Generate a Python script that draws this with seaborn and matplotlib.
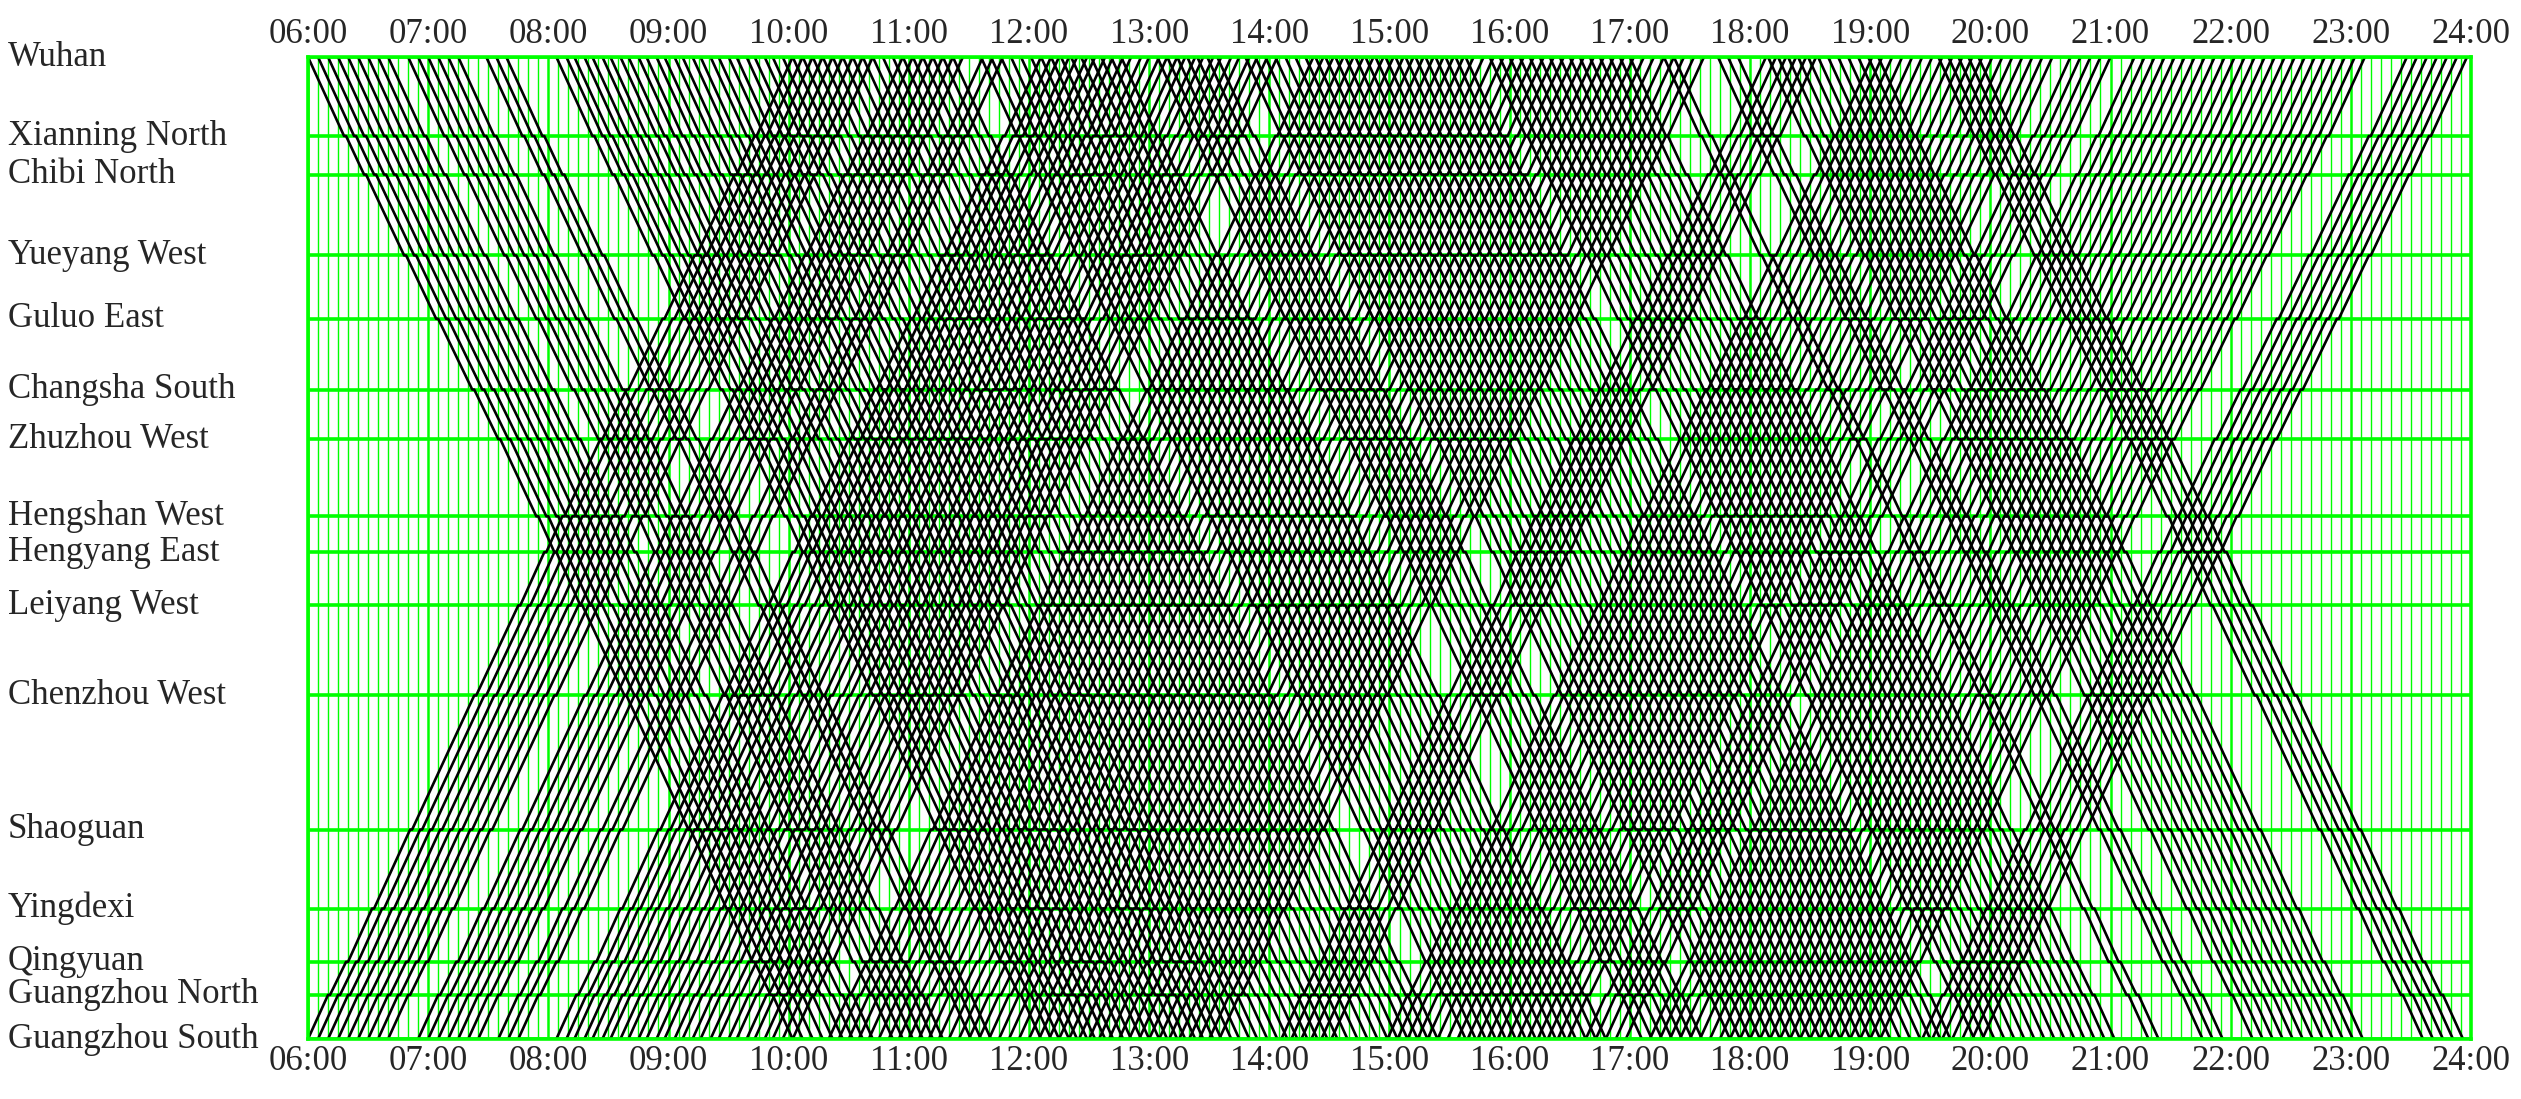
import numpy as np
import pandas as pd
import matplotlib
matplotlib.use("Agg")
import matplotlib.pyplot as plt
import matplotlib.transforms as mtransforms
import seaborn as sns

# ---- line data ----
stations = ["Wuhan", "Xianning North", "Chibi North", "Yueyang West", "Guluo East",
            "Changsha South", "Zhuzhou West", "Hengshan West", "Hengyang East",
            "Leiyang West", "Chenzhou West", "Shaoguan", "Yingdexi", "Qingyuan",
            "Guangzhou North", "Guangzhou South"]
station_km = [0, 86, 128, 216, 285, 362, 416, 500, 539, 597, 695, 841, 927, 985, 1021, 1069]
# running minutes per section, Wuhan -> Guangzhou South
run_min = [18, 9, 19, 15, 17, 12, 18, 8, 12, 21, 31, 18, 12, 8, 10]
dwell_min = 1

# departures from Wuhan (down)
down_dep = """
06:00 06:05 06:10 06:15 06:20 06:25 06:30 06:35 06:40
06:50 06:55 07:00 07:05 07:10 07:15
07:29 07:34 07:39
08:04 08:09 08:13 08:18 08:22 08:27 08:31 08:36 08:40 08:45 08:49 08:54 08:58
09:03 09:07 09:12 09:16 09:21 09:25 09:30 09:34 09:39 09:43 09:48 09:52 09:57
10:02 10:07 10:12 10:17 10:22 10:27 10:32 10:37 10:42 10:47 10:52 10:57
11:02 11:07 11:12 11:17 11:22 11:36 11:41 11:46 11:51 11:56
12:01 12:06 12:11 12:16 12:21 12:26 12:31 12:36 12:41 12:46
13:04 13:09 13:14 13:19 13:24 13:29 13:34 13:48 13:53 13:58
14:03 14:08 14:13 14:18 14:23 14:28 14:33 14:38 14:43 14:48 14:53 14:58
15:03 15:08 15:13 15:18 15:23 15:28 15:33 15:38 15:50 15:55
16:00 16:05 16:10 16:15 16:20 16:25 16:30 16:35 16:40 16:45 16:50 16:55
17:00 17:17 17:22 17:44 17:49 17:54
18:09 18:14 18:19 18:24 18:29 18:34 18:39 18:44 18:49 18:54 18:59
19:04 19:34 19:39 19:44 19:49 19:54
""".split()

# departures from Guangzhou South (up)
up_dep = """
06:00 06:05 06:10 06:15 06:20 06:25 06:30 06:35 06:40
06:55 07:00 07:05 07:10 07:15 07:20 07:25
07:35 07:40 07:45
08:04 08:09 08:13 08:18 08:22 08:27 08:31 08:36 08:40 08:45 08:49 08:54 08:58
09:03 09:07 09:12 09:16 09:21 09:25 09:30 09:34 09:39 09:43 09:48 09:52 09:57
10:02 10:20 10:25 10:30 10:35 10:40 10:45 10:50 10:55
11:00 11:05 11:10 11:15 11:20 11:25 11:30 11:35 11:40 11:45 11:50 11:55
12:00 12:05 12:10 12:15 12:20 12:25 12:30 12:35 12:40 12:45 12:50 12:55
13:00 13:05 13:10 13:15 13:20 13:25 13:30 13:35
14:06 14:11 14:16 14:21 14:26 14:31 14:59
15:04 15:09 15:14 15:19 15:24 15:29 15:34 15:39 15:44 15:49 15:54 15:59
16:04 16:09 16:14 16:19 16:24 16:29 16:38 16:43 16:48 16:53 16:58
17:10 17:15 17:20 17:25 17:30 17:35 17:40 17:45 17:50 17:55
18:00 18:05 18:10 18:15 18:20 18:25 18:30 18:35 18:40 18:45 18:50 18:55
19:00 19:05 19:26 19:31 19:36 19:41 19:46 19:51 19:56
""".split()

hours = list(range(6, 25))
hour_labels = [f"{h:02d}:00" for h in hours]


def to_min(s):
    h, m = s.split(":")
    return int(h) * 60 + int(m)


def train_path(dep, kms, runs):
    t = to_min(dep)
    pts = [(t, kms[0])]
    for i, r in enumerate(runs):
        t += r
        pts.append((t, kms[i + 1]))
        if i + 1 < len(kms) - 1:
            t += dwell_min
            pts.append((t, kms[i + 1]))
    return pts


rows = []
for k, dep in enumerate(down_dep):
    for j, (t, km) in enumerate(train_path(dep, station_km, run_min)):
        rows.append((f"D{k}", j, t / 60, km))
for k, dep in enumerate(up_dep):
    for j, (t, km) in enumerate(train_path(dep, station_km[::-1], run_min[::-1])):
        rows.append((f"U{k}", j, t / 60, km))
df = pd.DataFrame(rows, columns=["train", "seq", "hour", "km"])

# ---- plot ----
sns.set_style("white")
plt.rcParams["font.family"] = ["Liberation Serif", "DejaVu Serif"]

W, H = 2521, 1099
fig = plt.figure(figsize=(W / 100, H / 100), dpi=100)
ax = fig.add_axes([308 / W, 1 - 1039 / H, (2471 - 308) / W, (1039 - 57) / H])

green = "#00ff00"
ax.set_xticks(np.arange(6, 24.001, 1 / 12), minor=True)
ax.set_xticks(hours)
ax.set_xticklabels(hour_labels, fontsize=25)
ax.set_yticks(station_km)
ax.set_yticklabels([])
ax.grid(which="minor", axis="x", color=green, lw=1.0)
ax.grid(which="major", axis="x", color=green, lw=1.8)
ax.grid(which="major", axis="y", color=green, lw=2.6)
ax.set_axisbelow(True)

sns.lineplot(data=df, x="hour", y="km", units="train", estimator=None, sort=False,
             color="black", lw=1.9, ax=ax, legend=False)

ax.set_xlim(6, 24)
ax.set_ylim(station_km[-1], 0)
ax.set_xlabel("")
ax.set_ylabel("")
ax.tick_params(axis="x", which="both", length=0, top=True, labeltop=True,
               bottom=True, labelbottom=True, pad=4)
ax.tick_params(axis="y", length=0)
for s in ax.spines.values():
    s.set_color(green)
    s.set_linewidth(2.6)

trans = mtransforms.blended_transform_factory(fig.transFigure, ax.transData)
for name, km in zip(stations, station_km):
    ax.text(8 / W, km, name, transform=trans, ha="left", va="center", fontsize=25)

fig.savefig("out.png", dpi=100)
